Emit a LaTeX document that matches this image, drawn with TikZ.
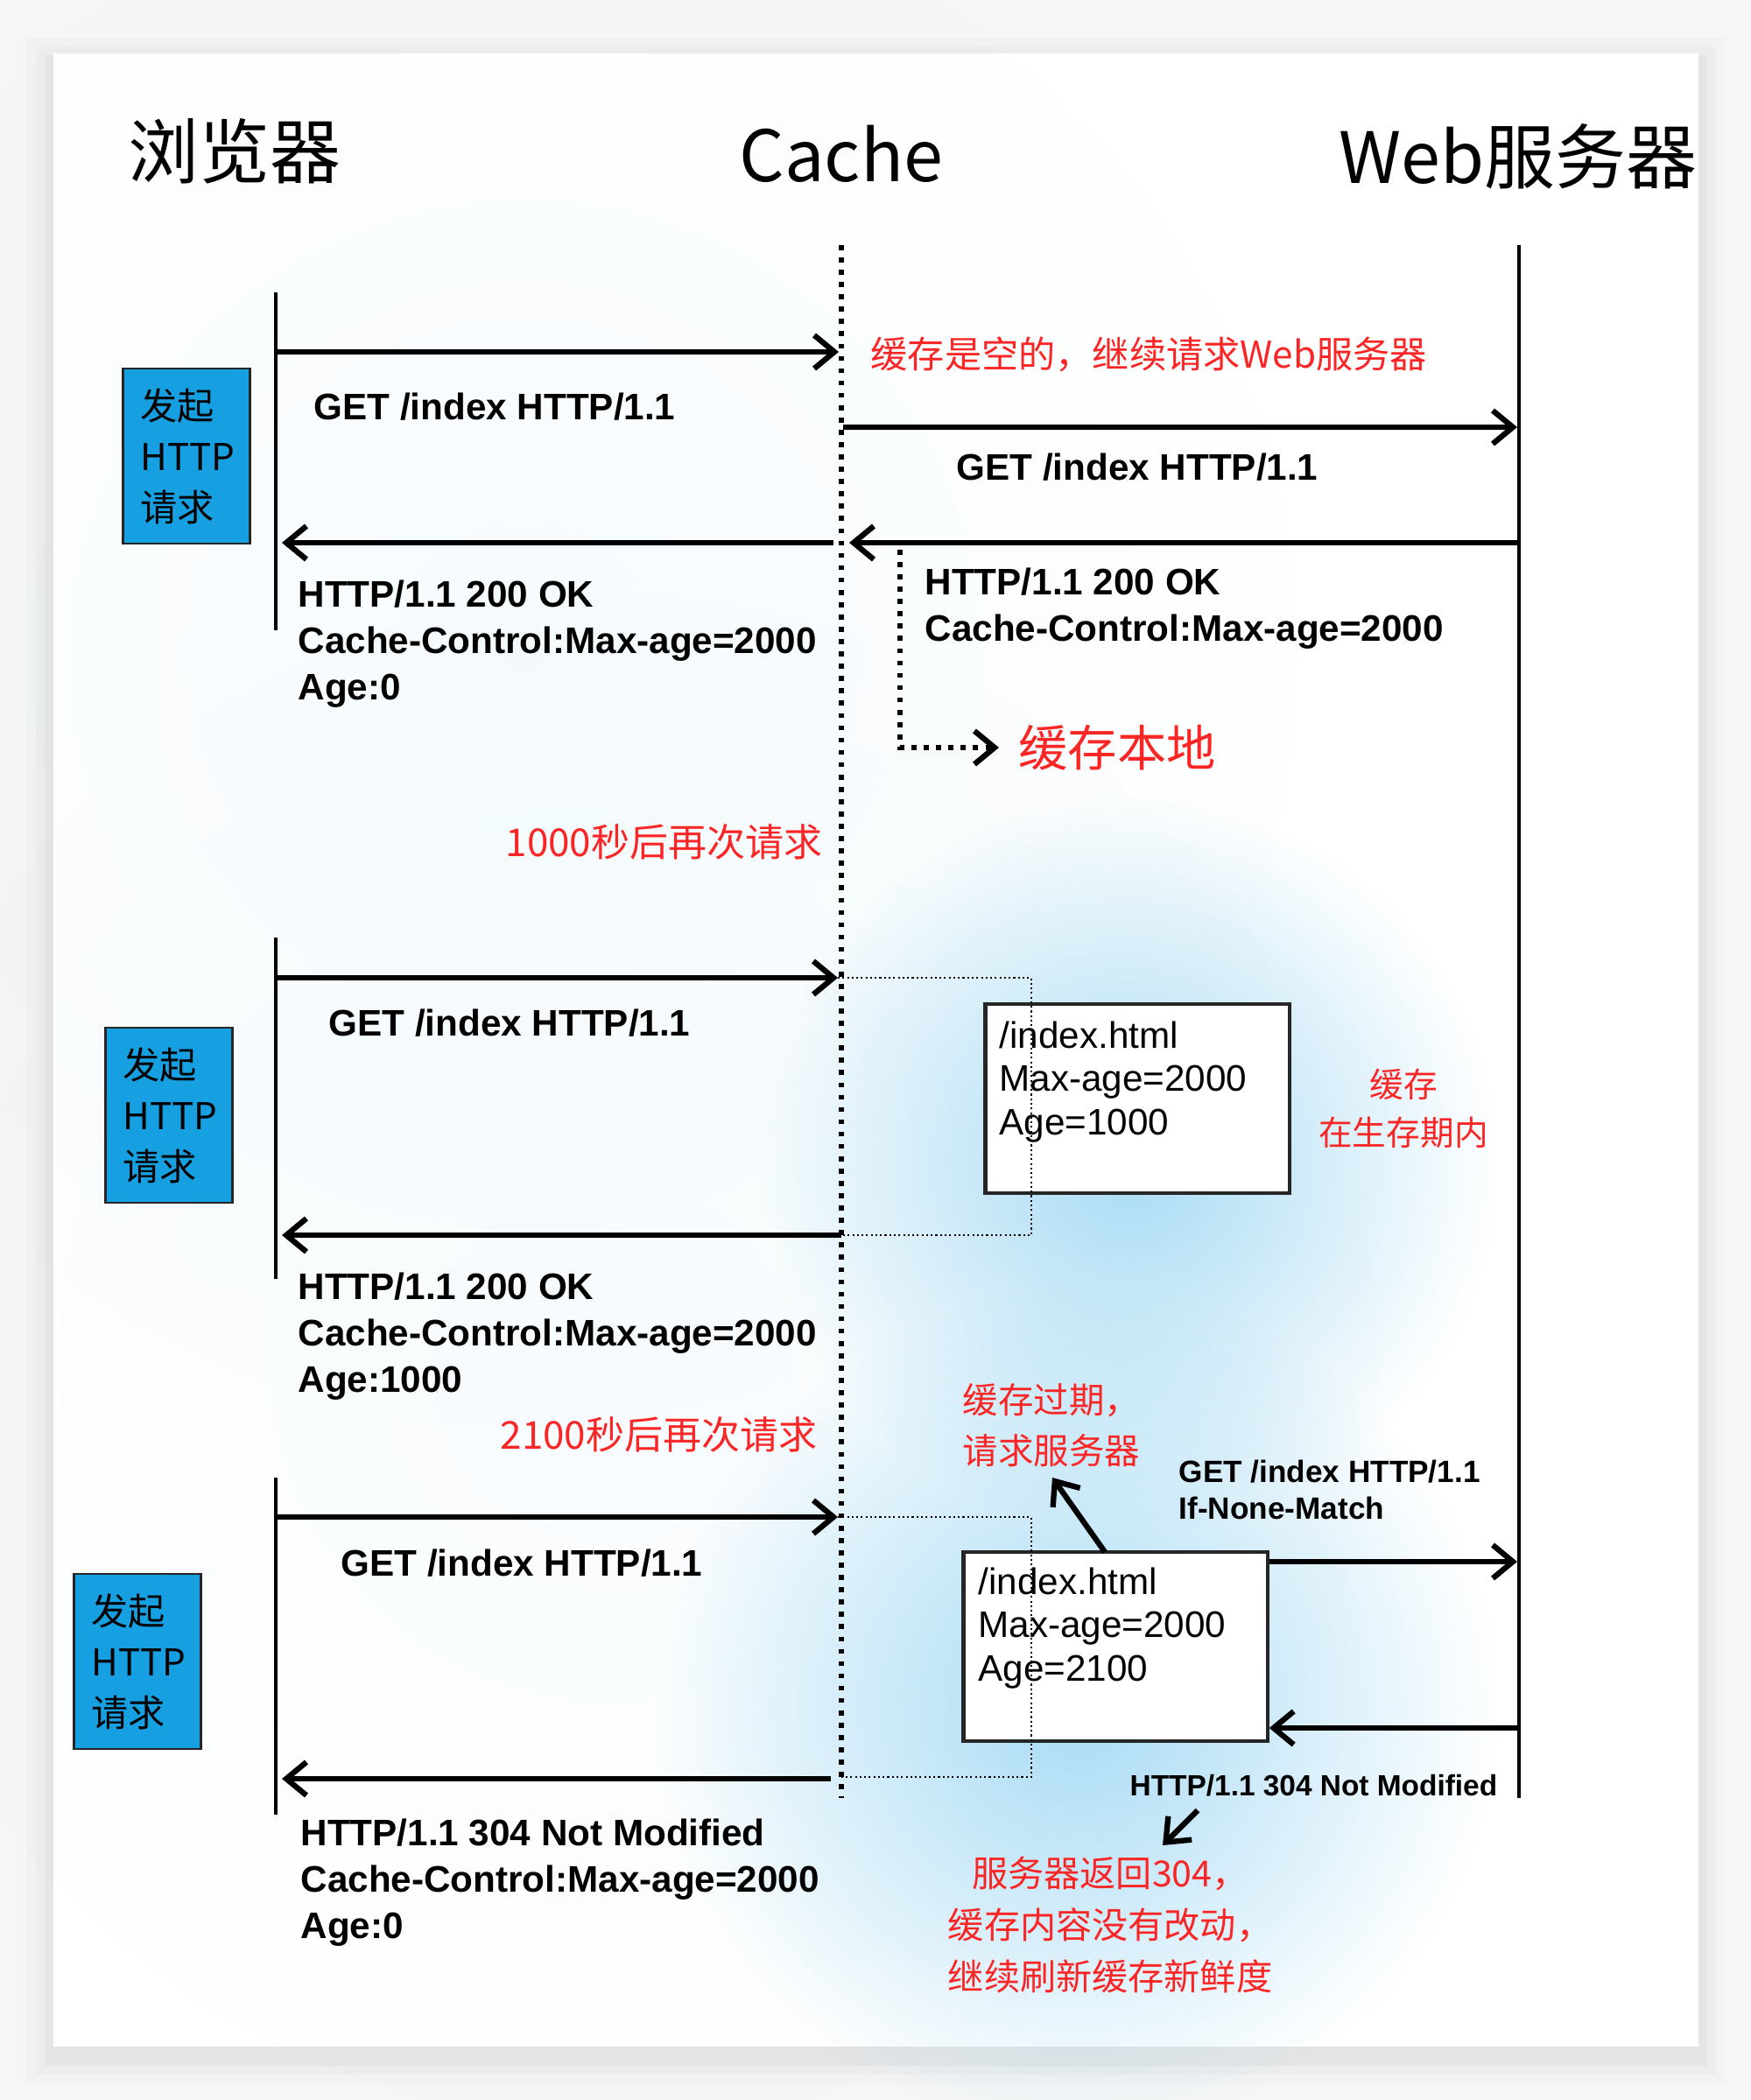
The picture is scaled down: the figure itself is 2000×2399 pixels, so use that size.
\documentclass[tikz,border=0pt]{standalone}
\usepackage{fontspec}
\setmainfont{Liberation Sans}
\newfontfamily\cjk{Noto Sans CJK SC}
\usepackage{xcolor}
\usetikzlibrary{arrows.meta,positioning,fadings}
\definecolor{reqblue}{RGB}{22,160,226}
\definecolor{notered}{RGB}{250,38,38}
\definecolor{glow}{RGB}{140,208,242}
\definecolor{pagegray}{RGB}{246,246,246}
\tikzfading[name=glowfade, inner color=transparent!0, outer color=transparent!100]

\begin{document}
\begin{tikzpicture}[
    x=0.01cm, y=-0.01cm,
    title/.style={font=\cjk\fontsize{23}{23}\selectfont, inner sep=0pt},
    msg/.style={font=\bfseries\fontsize{12}{15.1}\selectfont, inner sep=0pt, anchor=west, align=left},
    entry/.style={font=\fontsize{12}{14}\selectfont, inner sep=0pt, anchor=west, align=left},
    note/.style={text=notered, font=\cjk\fontsize{12}{16.5}\selectfont, inner sep=0pt, align=left},
    reqbox/.style={rectangle, draw=black!85, line width=0.6pt, fill=reqblue, minimum width=1.45cm, minimum height=2cm, text width=1.05cm, inner xsep=0.2cm, align=left, font=\cjk\fontsize{12}{16.5}\selectfont},
    cachebox/.style={rectangle, draw=black!85, line width=1.2pt, fill=white, minimum width=3.47cm, minimum height=2.16cm},
    life/.style={line width=1.2pt},
    cacheline/.style={line width=1.6pt, dash pattern=on 1.6pt off 2.4pt},
    bracket/.style={line width=0.55pt, dash pattern=on 0.6pt off 0.9pt},
    arrow/.style={-{Straight Barb[length=2.3mm,width=3.8mm]}, line width=1.8pt}
]
% page and card
\fill[pagegray] (0,0) rectangle (2000,2399);
\useasboundingbox (0,0) rectangle (2000,2399);
\foreach \d/\o in {30/0.015, 20/0.02, 10/0.03}
  \fill[black, opacity=\o] (61-\d,61-\d+12) rectangle (1940+\d,2338+\d+12);
\fill[white] (61,61) rectangle (1940,2338);

% glows
\fill[glow, path fading=glowfade, fill opacity=0.08] (600,750) circle (9cm);
\fill[glow, path fading=glowfade, fill opacity=0.06] (700,1550) circle (9cm);
\fill[glow, path fading=glowfade, fill opacity=0.75] (1290,1330) circle (4.2cm);
\fill[glow, path fading=glowfade, fill opacity=0.75] (1230,1950) circle (4.8cm);

% titles
\node[title] (browser) at (268,173) {浏览器};
\node[title] (cache) at (961,176) {Cache};
\node[title] (server) at (1734,179) {Web服务器};

% lifelines
\coordinate (ctop) at (961,280);
\coordinate (cbot) at (961,2054);
\coordinate (stop) at (1735,280);
\coordinate (sbot) at (1735,2054);
\draw[cacheline] (ctop) -- (cbot);
\draw[life] (stop) -- (sbot);
\foreach \t/\b [count=\i] in {334/720, 1071/1461, 1688/2073}
  \draw[life] (315,\t) coordinate (bt\i) -- (315,\b) coordinate (bb\i);

\node[reqbox] (req1) at (213,521) {发起\\HTTP\\请求};
\node[reqbox] (req2) at (193,1274) {发起\\HTTP\\请求};
\node[reqbox] (req3) at (157,1898) {发起\\HTTP\\请求};

% first request
\coordinate (b1) at (315,402);
\coordinate (c1) at (958,402);
\draw[arrow] (b1) -- (c1);
\node[msg] (get1) at (358,465) {GET /index HTTP/1.1};
\node[note, anchor=west] (empty) at (994,405) {缓存是空的，继续请求Web服务器};
\coordinate (c2) at (963,488);
\coordinate (s2) at (1733,488);
\draw[arrow] (c2) -- (s2);
\node[msg] (get2) at (1092,534) {GET /index HTTP/1.1};
\coordinate (s3) at (1735,620);
\coordinate (c3) at (970,620);
\draw[arrow] (s3) -- (c3);
\coordinate (c4) at (952,620);
\coordinate (b4) at (322,620);
\draw[arrow] (c4) -- (b4);
\node[msg] (ok1) at (340,736) {HTTP/1.1 200 OK\\Cache-Control:Max-age=2000\\Age:0};
\node[msg] (ok2) at (1056,695) {HTTP/1.1 200 OK\\Cache-Control:Max-age=2000};
\node[note, anchor=west, font=\cjk\fontsize{16}{16}\selectfont] (store) at (1163,854) {缓存本地};
\coordinate (d1) at (1028,628);
\draw[cacheline, -{Straight Barb[length=2.3mm,width=3.8mm, line width=1.8pt]}, shorten >=0.22cm] (d1) |- (store.west);
\node[note, anchor=west, font=\cjk\fontsize{12.5}{12.5}\selectfont] (later1) at (577,962) {1000秒后再次请求};

% second request
\coordinate (b5) at (315,1117);
\coordinate (c5) at (957,1117);
\draw[arrow] (b5) -- (c5);
\node[msg] (get3) at (375,1169) {GET /index HTTP/1.1};
\node[cachebox] (box1) at (1299,1255) {};
\node[entry] (entry1) at (1141,1236) {/index.html\\Max-age=2000\\Age=1000};
\coordinate (c6) at (961,1411);
\coordinate (b6) at (322,1411);
\draw[bracket] (c5) -| (1178,1411) -- (c6);
\draw[arrow] (c6) -- (b6);
\node[msg] (ok3) at (340,1527) {HTTP/1.1 200 OK\\Cache-Control:Max-age=2000\\Age:1000};
\node[note, align=center, font=\cjk\fontsize{11}{15.7}\selectfont] (fresh) at (1603,1266) {缓存\\在生存期内};
\node[note, anchor=west, font=\cjk\fontsize{12.5}{12.5}\selectfont] (later2) at (571,1639) {2100秒后再次请求};

% third request
\coordinate (b7) at (315,1733);
\coordinate (c7) at (957,1733);
\draw[arrow] (b7) -- (c7);
\node[msg] (get4) at (389,1786) {GET /index HTTP/1.1};
\node[cachebox] (box2) at (1274,1881) {};
\node[entry] (entry2) at (1117,1860) {/index.html\\Max-age=2000\\Age=2100};
\coordinate (c10) at (949,2032);
\coordinate (b10) at (322,2032);
\draw[bracket] (c7) -| (1178,2030) -- (961,2030);
\draw[arrow] (c10) -- (b10);
\node[msg] (nm1) at (343,2151) {HTTP/1.1 304 Not Modified\\Cache-Control:Max-age=2000\\Age:0};
\coordinate (s8) at (1733,1784);
\draw[arrow] (box2.east |- s8) -- (s8);
\coordinate (s9) at (1735,1974);
\draw[arrow] (s9) -- (box2.east |- s9);
\node[msg, font=\bfseries\fontsize{10}{12}\selectfont] (inm) at (1346,1702) {GET /index HTTP/1.1\\If-None-Match};
\node[msg, font=\bfseries\fontsize{9.5}{11}\selectfont] (nm2) at (1290,2040) {HTTP/1.1 304 Not Modified};
\node[note, anchor=west, font=\cjk\fontsize{11.5}{16.5}\selectfont] (expired) at (1099,1628) {缓存过期，\\请求服务器};
\coordinate (e1) at (1262,1773);
\coordinate (e2) at (1202,1688);
\draw[arrow] (e1) -- (e2);
\coordinate (r1) at (1368,2068);
\coordinate (r2) at (1328,2108);
\draw[arrow] (r1) -- (r2);
\node[note, align=center, font=\cjk\fontsize{11.7}{16.7}\selectfont] (refresh) at (1268,2199) {服务器返回304，\\缓存内容没有改动，\\继续刷新缓存新鲜度};
\end{tikzpicture}
\end{document}
